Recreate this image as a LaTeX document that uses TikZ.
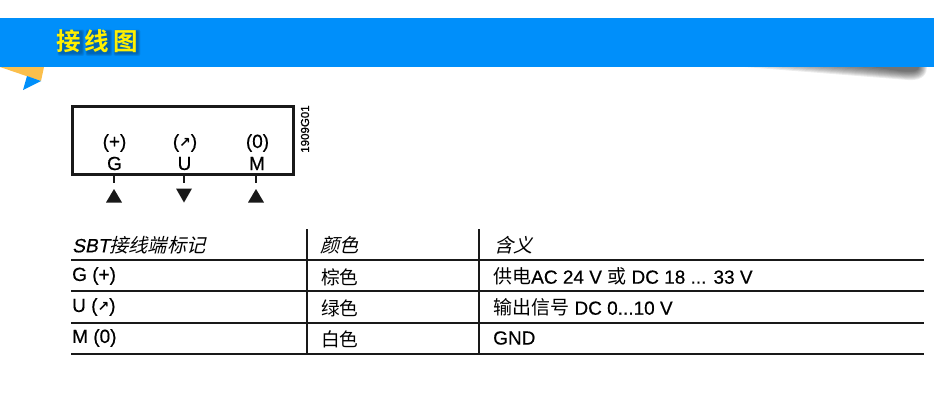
\documentclass[tikz,border=0pt]{standalone}
\usepackage{fontspec}
\setmainfont[FakeBold=0.4]{Liberation Sans}
\newfontfamily\cjk{Noto Sans CJK SC}
\newfontfamily\cjkslant[FakeSlant=0.25]{Noto Sans CJK SC}
\newfontfamily\cjkbold{Noto Sans CJK SC Bold}
\newfontfamily\latinslant[FakeSlant=0.2,FakeBold=0.4]{Liberation Sans}
\newfontfamily\dejavu{DejaVu Sans Bold}
\newfontfamily\codefont[FakeBold=1.2]{Liberation Sans}
\newcommand{\uparrowglyph}{{\dejavu\fontsize{14}{14}\selectfont ↗}}
\definecolor{barblue}{HTML}{008FFA}
\definecolor{ribbon}{HTML}{FBBF4C}
\definecolor{titleyellow}{HTML}{FFF000}
\definecolor{shadowblue}{HTML}{00305A}
\tikzset{
  x=1pt,y=-1pt,
  lbl/.style={inner sep=0pt,font=\fontsize{19}{19}\selectfont,text=black},
  cell/.style={lbl,anchor=west},
  cjkcell/.style={cell,font=\fontsize{18.7}{19}\selectfont\cjk},
  headcell/.style={cell,font=\fontsize{19.2}{19}\selectfont\cjkslant},
  rule/.style={draw=black!90,line width=1.5pt},
  headrule/.style={draw=black!90,line width=2.2pt},
  tick/.style={draw=black!90,line width=2.2pt},
  tri/.style={fill=black!90,draw=none},
  titletxt/.style={inner sep=0pt,font=\fontsize{24.5}{24.5}\selectfont\cjkbold},
}
\begin{document}
\begin{tikzpicture}
\useasboundingbox (0,0) rectangle (940,416);
\fill[white] (0,0) rectangle (940,416);
% drop shadow under the banner
\foreach \i in {0,...,9}{
  \fill[black,opacity=0.075] ({745+\i*14},67) -- ({927-\i*0.9},67)
     .. controls ({927-\i*0.9},{73-\i*0.3}) and ({924-\i*0.9},{81-\i*0.9}) .. ({908-\i*1},{80-\i*1}) -- cycle;
}
\fill[barblue] (0,18) rectangle (934,67);
\fill[ribbon] (0,67) -- (44,67) -- (41,81) -- cycle;
\fill[barblue] (27,76) -- (41,81) -- (23,90) -- cycle;
% soft shadow behind the banner title
\foreach \gx in {57,85,113}{
  \foreach \g in {0,1,2,3}{
    \fill[shadowblue,opacity=0.13,rounded corners=2pt] ({\gx+1-\g*0.5+1},{30-\g*0.5+1}) rectangle ({\gx+25+\g*0.8},{53.5+\g*0.8});
  }
}
\node[titletxt,text=titleyellow] (title) at (97,41) {接\,线\,图};
% terminal box
\node[draw=black!90,line width=3pt,minimum width=221pt,minimum height=68pt,inner sep=0pt,anchor=north west] (box) at (71,105) {};
\node[lbl] (plus) at (114.5,143) {(+)};
\node[lbl] (sig) at (185,143) {(\uparrowglyph)};
\node[lbl] (zero) at (257.5,143) {(0)};
\node[lbl] (G) at (114.5,163.5) {G};
\node[lbl] (U) at (184.5,163.5) {U};
\node[lbl] (M) at (257,163.5) {M};
\node[inner sep=0pt,rotate=90,font=\fontsize{11.5}{11.5}\selectfont\codefont,text=black] (code) at (305,129) {1909G01};
\coordinate (tg) at (114,183);
\coordinate (tu) at (184,183);
\coordinate (tm) at (256,183);
\draw[tick] (box.south -| tg) -- (tg);
\draw[tick] (box.south -| tu) -- (tu);
\draw[tick] (box.south -| tm) -- (tm);
\fill[tri] (114,189) -- (122,202.5) -- (106,202.5) -- cycle;
\fill[tri] (176,188.5) -- (192,188.5) -- (184,202.5) -- cycle;
\fill[tri] (256,189) -- (264,202.5) -- (248,202.5) -- cycle;
% table rules
\coordinate (r0l) at (71,260); \coordinate (r0r) at (924,260);
\coordinate (r1l) at (71,291); \coordinate (r1r) at (924,291);
\coordinate (r2l) at (71,323); \coordinate (r2r) at (924,323);
\coordinate (r3l) at (71,354); \coordinate (r3r) at (924,354);
\coordinate (v1t) at (307,229); \coordinate (v1b) at (307,354);
\coordinate (v2t) at (479,229); \coordinate (v2b) at (479,354);
\draw[headrule] (r0l) -- (r0r);
\draw[rule] (r1l) -- (r1r);
\draw[rule] (r2l) -- (r2r);
\draw[headrule] (r3l) -- (r3r);
\draw[rule] (v1t) -- (v1b);
\draw[rule] (v2t) -- (v2b);
% table text
\node[headcell] (h1) at (72,245) {{\latinslant SBT}接线端标记};
\node[headcell] (h2) at (320,245) {颜色};
\node[headcell] (h3) at (494,245) {含义};
\node[cell] (c11) at (72,276) {G (+)};
\node[cjkcell] (c12) at (321,277) {棕色};
\node[cell] (c13) at (493,276.5) {{\cjk 供电}AC 24 V {\cjk 或} DC 18 ... 33 V};
\node[cell] (c21) at (72,307) {U (\uparrowglyph)};
\node[cjkcell] (c22) at (321,308) {绿色};
\node[cell] (c23) at (493,307.5) {{\cjk 输出信号} DC 0...10 V};
\node[cell] (c31) at (72,338) {M (0)};
\node[cjkcell] (c32) at (321,339) {白色};
\node[cell] (c33) at (493,338) {GND};
\end{tikzpicture}
\end{document}
